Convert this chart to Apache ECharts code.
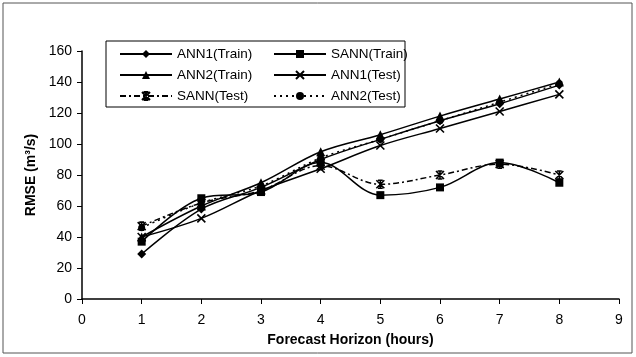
<!DOCTYPE html>
<html><head><meta charset="utf-8">
<script src="https://cdn.jsdelivr.net/npm/echarts@6/dist/echarts.min.js"></script>
<style>html,body{margin:0;padding:0;background:#fff}#c{width:636px;height:357px}</style>
</head><body><div id="c"></div>
<script>
var hours = [1, 2, 3, 4, 5, 6, 7, 8];
var ann1Train = [29, 58, 72, 90, 103, 115, 126, 138];
var sannTrain = [37, 65, 69, 88, 67, 72, 88, 75];
var ann2Train = [40, 60, 75, 95, 106, 118, 129, 140];
var ann1Test  = [40, 52, 70, 84, 99, 110, 121, 132];
var sannTest  = [47, 62, 70, 86, 74, 80, 87, 80];
var ann2Test  = [46, 62, 73, 91, 103, 115, 127, 139];
var yTicks = [0, 20, 40, 60, 80, 100, 120, 140, 160];

function pts(v){ return hours.map(function(h,i){ return [h, v[i]]; }); }
var xPath = 'path://M0,0L10,10M10,0L0,10';
var starPath = 'path://M0,0L10,10M10,0L0,10M5,0L5,10M2,0L8,0M2,10L8,10';

function mk(name, data, sym, size, ltype, stroke){
  return {
    name: name, type: 'line', data: pts(data), smooth: 0.35,
    symbol: sym, symbolSize: size,
    lineStyle: {color: '#000', width: 1.5, type: ltype},
    itemStyle: {color: '#000', borderColor: '#000', borderWidth: stroke ? 1.6 : 0},
    emphasis: {disabled: true}
  };
}

var chart = echarts.init(document.getElementById('c'));
chart.setOption({
  animation: false,
  backgroundColor: '#fff',
  grid: {left: 82, right: 17, top: 51, bottom: 58},
  graphic: [
    {type: 'rect', shape: {x: 3, y: 3, width: 629, height: 350}, style: {fill: 'none', stroke: '#555', lineWidth: 1}},
    {type: 'rect', shape: {x: 106, y: 41, width: 299, height: 66}, style: {fill: '#fff', stroke: '#000', lineWidth: 1}, z: 5}
  ],
  legend: [
    {data: ['ANN1(Train)', 'ANN2(Train)', 'SANN(Test)'], orient: 'vertical', left: 114, top: 42,
     itemWidth: 52, itemHeight: 10, itemGap: 7, z: 10,
     textStyle: {fontFamily: 'Liberation Sans, Arial', fontSize: 13.5, color: '#000'}},
    {data: ['SANN(Train)', 'ANN1(Test)', 'ANN2(Test)'], orient: 'vertical', left: 268, top: 42,
     itemWidth: 52, itemHeight: 10, itemGap: 7, z: 10,
     textStyle: {fontFamily: 'Liberation Sans, Arial', fontSize: 13.5, color: '#000'}}
  ],
  xAxis: {
    type: 'value', min: 0, max: 9, interval: 1,
    name: 'Forecast Horizon (hours)', nameLocation: 'middle', nameGap: 34,
    nameTextStyle: {fontFamily: 'Liberation Sans, Arial', fontSize: 14, fontWeight: 'bold', color: '#000'},
    axisLine: {lineStyle: {color: '#000', width: 1.5}},
    axisTick: {show: true, length: 5, lineStyle: {color: '#000'}},
    axisLabel: {fontFamily: 'Liberation Sans, Arial', fontSize: 14, color: '#000', margin: 14},
    splitLine: {show: false}
  },
  yAxis: {
    type: 'value', min: 0, max: 160, interval: 20,
    name: 'RMSE (m³/s)', nameLocation: 'middle', nameGap: 42, nameRotate: 90,
    nameTextStyle: {fontFamily: 'Liberation Sans, Arial', fontSize: 14, fontWeight: 'bold', color: '#000'},
    axisLine: {show: true, lineStyle: {color: '#000', width: 1.5}},
    axisTick: {show: true, length: 5, lineStyle: {color: '#000'}},
    axisLabel: {fontFamily: 'Liberation Sans, Arial', fontSize: 14, color: '#000', margin: 10,
      formatter: function(v){ return yTicks.indexOf(v) >= 0 ? String(v) : ''; }},
    splitLine: {show: false}
  },
  series: [
    mk('ANN1(Train)', ann1Train, 'diamond', 9, 'solid', false),
    mk('SANN(Train)', sannTrain, 'rect', 8, 'solid', false),
    mk('ANN2(Train)', ann2Train, 'triangle', 9, 'solid', false),
    mk('ANN1(Test)', ann1Test, xPath, 8, 'solid', true),
    mk('SANN(Test)', sannTest, starPath, 8, [6, 3, 2, 3], true),
    mk('ANN2(Test)', ann2Test, 'circle', 7, [2, 4], false)
  ]
});
</script></body></html>
